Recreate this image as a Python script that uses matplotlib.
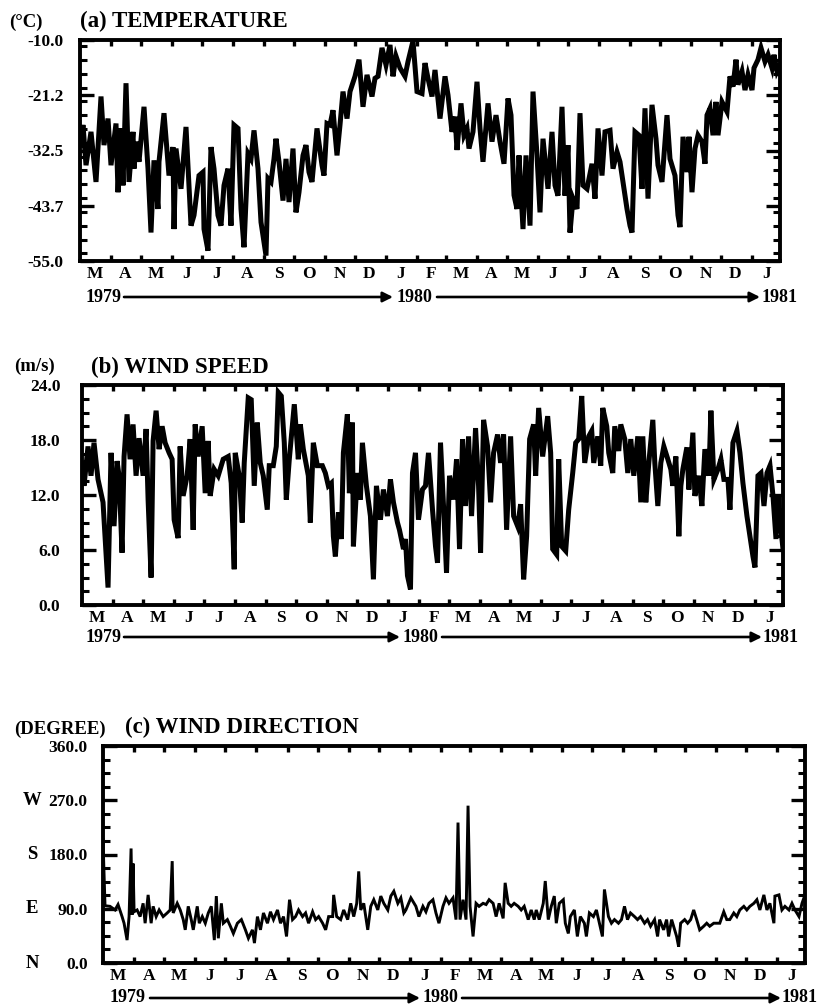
import datetime as dt
import matplotlib
matplotlib.use("Agg")
import matplotlib.pyplot as plt
from matplotlib.ticker import FixedLocator, FixedFormatter, MultipleLocator
from matplotlib.transforms import blended_transform_factory

# ---------------- data (day offset from 1979-03-01, value) ----------------
temp_day = [0, 3, 6, 11, 16, 21, 24, 28, 31, 36, 38, 41, 43, 46, 49, 53, 54, 56, 59, 64,
            68, 71, 74, 78, 79, 84, 89, 93, 94, 96, 101, 106, 111, 114, 119, 123, 124, 128, 131, 134,
            138, 141, 144, 148, 151, 154, 158, 161, 164, 168, 171, 174, 178, 181, 184, 186, 188, 191, 194, 196,
            199, 203, 206, 209, 213, 216, 219, 223, 226, 229,
            232, 237, 242, 244, 247, 250, 253, 257, 260, 263, 267, 270, 275, 279, 283, 287, 292, 295, 298, 302,
            306, 310, 313, 316, 320, 325, 328, 333, 337, 342, 345, 348, 352, 355, 360, 365, 368, 372, 375, 377,
            381, 384, 387, 389, 393, 397, 400, 403, 408, 412, 416, 420, 424, 428, 431, 434, 437, 439, 443, 446,
            450, 453, 457, 460, 463,
            468, 472, 475, 478, 482, 485, 488, 490, 493, 497, 500, 503, 507, 512, 515, 518, 522, 525, 530, 533,
            537, 540, 543, 547, 550, 552, 555, 559, 562, 565, 568, 572, 576, 578, 582, 587, 590, 595, 598, 600,
            603, 607, 609, 612, 615, 618, 622, 625, 627, 630, 633, 636, 638, 642, 647, 650, 653, 656, 658, 662,
            665, 668, 672, 674, 678, 681, 685, 688, 692, 694, 697, 700]
temp_val = [-31.4, -27.3, -35.5, -28.7, -38.9, -21.5, -31.4, -26.0, -35.5, -27.0,
            -41.0, -28.0, -39.6, -18.8, -38.9, -28.7, -36.2, -30.7, -34.8, -23.6,
            -36.2, -49.2, -34.5, -44.4, -34.8, -24.9, -37.6, -31.8, -48.5, -32.1,
            -40.3, -27.7, -47.8, -45.7, -37.6, -36.9, -48.5, -52.9, -31.8, -36.2,
            -45.7, -47.8, -39.6, -36.2, -47.8, -27.3, -28.0, -44.4, -52.2, -33.1,
            -34.2, -28.4, -36.2, -47.1, -51.2, -53.9, -38.2, -38.9, -34.2, -30.1,
            -34.8, -42.7, -34.2, -43.0, -32.1, -45.1, -41.0, -33.5, -31.4, -36.9,
            -38.9, -28.0, -35.5, -37.6, -27.0, -27.3, -24.3, -33.5, -27.3, -20.5,
            -26.0, -20.5, -17.4, -14.0, -23.6, -17.1, -21.5, -17.8, -17.4, -11.6,
            -15.1, -11.0, -17.4, -13.3, -15.7, -17.4, -14.4, -10.2, -20.5, -20.9,
            -14.7, -17.8, -21.5, -16.1, -26.0, -17.4, -21.2, -28.7, -25.6, -32.4,
            -22.9, -29.4, -28.0, -32.1, -28.7, -18.5, -28.0, -34.8, -22.9, -30.7,
            -25.3, -30.7, -35.2, -21.9, -25.3, -41.6, -44.4, -33.5, -48.5, -33.5,
            -47.8, -20.5, -33.5, -45.1, -30.1,
            -40.3, -28.7, -39.6, -41.7, -23.6, -41.7, -31.4, -49.2, -42.3, -44.4,
            -24.9, -39.6, -40.3, -35.2, -42.3, -28.0, -37.6, -28.7, -28.4, -36.2,
            -32.8, -34.8, -38.9, -44.4, -47.8, -49.2, -28.7, -29.4, -40.3, -23.9,
            -42.3, -23.2, -30.1, -35.5, -38.9, -25.3, -34.2, -37.6, -45.7, -48.1,
            -29.7, -36.9, -29.7, -41.0, -32.1, -29.4, -30.7, -35.2, -25.3, -23.9,
            -29.4, -22.6, -29.4, -22.6, -24.6, -17.4, -19.5, -14.0, -19.1, -16.4,
            -20.2, -17.1, -20.2, -15.7, -14.0, -11.6, -14.4, -13.0, -15.7, -13.0,
            -16.4, -15.1]

speed_day = [0, 2, 6, 9, 12, 16, 21, 26, 29, 32, 35, 37, 40, 42, 45, 48, 51, 54, 57, 61,
             64, 66, 69, 71, 74, 77, 80, 83, 87, 90, 92, 96, 98, 101, 105, 108, 111, 113, 116, 120,
             123, 126, 128, 132, 136, 141, 146, 149, 152, 153, 157, 160, 162, 166, 169, 172, 175, 178, 181, 185,
             187, 191, 194, 196, 199, 202, 204, 207, 212, 216, 218, 221, 226,
             228, 231, 235, 240, 243, 246, 249, 251, 253, 256, 259, 261, 265, 267, 270, 271, 275, 278, 280, 284,
             288, 291, 294, 298, 301, 305, 308, 311, 315, 317, 321, 323, 325, 328, 330, 333, 336, 340, 343, 346,
             350, 353, 355, 358, 361, 364, 367, 371, 374, 377, 380, 383, 386, 389, 393, 396, 398, 401, 405, 408,
             411, 415, 418, 421, 424, 428, 431, 435, 438, 441, 444, 447, 451, 453, 456, 460,
             465, 468, 470, 474, 476, 479, 483, 486, 490, 493, 496, 499, 502, 506, 509, 511, 515, 518, 520, 524,
             526, 530, 532, 536, 538, 542, 545, 548, 551, 555, 558, 560, 563, 566, 570, 572, 575, 578, 581, 585,
             588, 590, 593, 596, 598, 600, 604, 606, 610, 612, 616, 619, 622, 626, 628, 631, 635, 638, 641, 645,
             647, 650, 654, 657, 660, 664, 667, 670, 672, 675, 678, 681, 684, 687, 690, 693, 695, 698, 700]
speed_val = [15.5, 13.0, 17.3, 14.1, 17.7, 13.7, 11.2, 1.9, 16.6, 8.6,
             15.7, 14.1, 5.7, 16.2, 20.8, 15.9, 19.7, 14.1, 18.2, 14.1,
             19.2, 11.5, 3.0, 17.9, 21.2, 17.0, 19.5, 17.7, 16.6, 15.9,
             9.3, 7.3, 17.3, 11.9, 14.1, 18.1, 8.2, 19.7, 16.2, 19.5,
             12.2, 17.9, 11.9, 14.8, 14.1, 15.9, 16.2, 13.3, 3.9, 16.6,
             14.1, 9.0, 15.5, 22.6, 22.4, 13.0, 19.9, 15.5, 14.1, 10.4,
             15.2, 15.2, 17.3, 23.2, 22.8, 17.7, 11.5, 15.9, 21.9, 15.9,
             19.7, 17.0, 14.1,
             9.0, 17.7, 15.2, 15.2, 14.4, 13.0, 13.3, 7.5, 5.3, 10.1,
             7.2, 16.6, 20.8, 12.2, 19.9, 6.4, 14.4, 11.5, 17.7, 13.0,
             9.7, 2.8, 13.0, 9.3, 12.6, 9.7, 13.7, 11.2, 9.0, 8.2,
             6.1, 7.2, 3.2, 1.7, 14.4, 16.6, 9.3, 12.6, 13.0, 16.6,
             10.4, 6.4, 4.6, 17.7, 10.8, 3.5, 14.1, 11.5, 15.9, 6.1,
             18.1, 10.8, 18.4, 9.7, 19.3, 13.0, 5.7, 20.2, 17.3, 11.2,
             16.6, 18.6, 15.5, 18.6, 8.2, 18.4, 9.7, 8.6, 11.0, 2.8,
             7.5, 18.1, 19.7, 14.1, 21.5, 16.2,
             20.6, 16.6, 6.1, 5.5, 15.9, 6.4, 5.9, 10.4, 14.4, 17.7,
             18.1, 22.8, 15.5, 18.4, 19.0, 15.5, 18.4, 15.2, 21.5, 19.5,
             16.6, 14.4, 19.5, 16.8, 19.7, 18.1, 14.4, 18.1, 14.1, 18.4,
             11.2, 18.4, 11.2, 15.5, 20.2, 15.5, 10.8, 15.5, 17.3, 15.9,
             14.8, 13.0, 16.2, 7.5, 13.0, 14.8, 17.2, 12.6, 18.8, 11.9,
             14.1, 10.8, 17.0, 14.1, 21.2, 13.7, 14.8, 15.9, 13.7, 13.7,
             10.4, 17.7, 19.0, 16.6, 13.3, 9.7, 7.5, 5.3, 4.1, 14.1,
             14.4, 10.8, 14.4, 15.2, 11.9, 7.2, 11.9, 8.2, 6.1]

dir_day = [0, 2, 7, 12, 15, 19, 21, 24, 26, 28, 29, 30, 31, 34, 37, 40, 42, 45, 48, 50,
           53, 56, 60, 64, 67, 69, 70, 74, 77, 80, 82, 85, 88, 90, 94, 96, 99, 102, 105, 108,
           111, 113, 115, 118, 120, 124, 127, 130, 134, 138, 142, 145, 149, 151, 154, 157, 160, 164, 167, 170,
           174, 177, 180, 183, 186, 189, 192, 195, 199, 202, 205, 209, 212, 215, 219, 222, 225, 229, 230, 233,
           237, 240, 244, 247, 250, 253, 255, 257, 260, 264, 267, 270, 274, 277, 280, 284, 287, 290, 294, 297,
           300, 302, 307, 312, 315, 319, 322, 325, 329, 332, 335, 339, 342, 345, 349, 352, 354, 356, 359, 362,
           364, 366, 369, 372, 375, 379, 382, 385, 389, 392, 395, 399, 401, 404, 407, 410, 414, 417, 420, 424,
           427, 430, 432, 435, 439, 441, 444, 447, 450, 452, 455, 459, 461, 464, 466, 470, 473, 476, 480, 482,
           485, 489, 492, 495, 498, 500, 504, 507, 510, 514, 517, 520, 523, 526, 530, 533, 536, 540, 543, 546,
           550, 553, 555, 559, 562, 564, 567, 570, 572, 574, 576, 580, 583, 586, 589, 592, 595, 599, 602, 605,
           609, 612, 615, 619, 622, 625, 629, 632, 635, 639, 642, 645, 649, 652, 655, 659, 662, 665, 669, 670,
           674, 677, 680, 684, 687, 690, 694, 697, 700]
dir_val = [205, 95, 94, 88, 97, 77, 66, 38, 77, 190, 80, 165, 85, 88, 77, 99, 66, 113, 66, 94,
           77, 88, 77, 83, 88, 169, 83, 99, 88, 72, 55, 94, 72, 55, 94, 66, 77, 66, 83, 94,
           38, 111, 41, 99, 66, 72, 61, 49, 66, 72, 55, 41, 55, 33, 77, 55, 83, 66, 85, 72,
           88, 66, 77, 44, 105, 72, 77, 88, 77, 83, 66, 85, 72, 77, 66, 55, 77, 77, 113, 77,
           72, 88, 72, 99, 77, 99, 152, 88, 99, 55, 94, 105, 88, 111, 99, 88, 111, 119, 99, 108,
           83, 88, 108, 94, 77, 94, 85, 99, 105, 83, 66, 94, 108, 99, 108, 72, 233, 72, 105, 72,
           261, 94, 44, 99, 94, 99, 97, 105, 99, 77, 99, 74, 133, 99, 94, 99, 94, 88, 94, 72,
           88, 72, 88, 72, 99, 136, 72, 94, 111, 66, 99, 105, 66, 49, 77, 88, 44, 77, 66, 44,
           83, 77, 88, 66, 44, 122, 77, 66, 72, 66, 72, 94, 72, 83, 77, 72, 77, 66, 72, 61,
           72, 44, 72, 55, 72, 44, 72, 55, 44, 27, 66, 72, 66, 72, 88, 72, 55, 61, 66, 61,
           66, 66, 66, 85, 72, 72, 83, 77, 88, 94, 88, 94, 99, 105, 88, 113, 88, 99, 66, 111,
           113, 88, 94, 88, 99, 88, 77, 99, 113]

temp_ticks = [-55.0, -43.75, -32.5, -21.25, -10.0]
temp_labels = ["-55.0", "-43.7", "-32.5", "-21.2", "-10.0"]
speed_ticks = [0, 6, 12, 18, 24]
speed_labels = ["0.0", "6.0", "12.0", "18.0", "24.0"]
dir_ticks = [0, 90, 180, 270, 360]
dir_labels = ["0.0", "90.0", "180.0", "270.0", "360.0"]
dir_letters = ["N", "E", "S", "W", ""]
month_letters = list("MAMJJASONDJFMAMJJASONDJ")
years = ["1979", "1980", "1981"]

# ---------------- figure ----------------
W, H = 820, 1008
plt.rcParams["font.family"] = ["Liberation Serif", "DejaVu Serif"]
plt.rcParams["font.weight"] = "bold"
fig = plt.figure(figsize=(W / 100, H / 100), dpi=100)

start = dt.date(1979, 3, 1)
month_starts, month_mids = [], []
y, m = 1979, 3
for i in range(len(month_letters)):
    first = dt.date(y, m, 1)
    month_starts.append((first - start).days)
    month_mids.append((first - start).days + 14.5)
    m += 1
    if m > 12:
        m, y = 1, y + 1


def rect(l, t, r, b):
    return [l / W, 1 - b / H, (r - l) / W, (b - t) / H]


def fx(px):
    return px / W


def fy(py):
    return 1 - py / H


def panel(r, days, vals, ylim, ticks, labels, lw, ypad):
    ax = fig.add_axes(rect(*r))
    ax.plot(days, vals, color="black", lw=lw, solid_joinstyle="miter")
    ax.set_xlim(0, 700)
    ax.set_ylim(*ylim)
    for s in ax.spines.values():
        s.set_linewidth(2.8)
    ax.xaxis.set_major_locator(FixedLocator(month_starts[1:]))
    ax.xaxis.set_minor_locator(FixedLocator(month_mids))
    ax.xaxis.set_minor_formatter(FixedFormatter(month_letters))
    ax.tick_params(axis="x", which="major", direction="in", length=4, width=2.4,
                   top=True, bottom=True, labelbottom=False)
    ax.tick_params(axis="x", which="minor", length=0, pad=3.5, labelsize=12.5)
    ax.yaxis.set_major_locator(FixedLocator(ticks))
    ax.yaxis.set_major_formatter(FixedFormatter(labels))
    ax.yaxis.set_minor_locator(MultipleLocator((ylim[1] - ylim[0]) / 16))
    ax.tick_params(axis="y", which="major", direction="in", length=10, width=2.4,
                   left=True, right=True, pad=ypad, labelsize=12.5)
    ax.tick_params(axis="y", which="minor", direction="in", length=5, width=2.2,
                   left=True, right=True)
    for lab in ax.get_xticklabels(minor=True) + ax.get_yticklabels():
        lab.set_fontweight("bold")
    return ax


def year_row(yc, x1979, a1, x1980, a2, x1981):
    kw = dict(fontsize=13, fontweight="bold", va="center", ha="center")
    fig.text(fx(x1979), fy(yc), years[0], **kw)
    fig.text(fx(x1980), fy(yc), years[1], **kw)
    fig.text(fx(x1981), fy(yc), years[2], **kw)
    for (s, e) in (a1, a2):
        fig.add_artist(matplotlib.patches.FancyArrowPatch(
            (fx(s), fy(yc)), (fx(e), fy(yc)), transform=fig.transFigure,
            arrowstyle="-|>", mutation_scale=15, lw=1.9, color="black",
            shrinkA=0, shrinkB=0))


# (a) temperature
axa = panel((80, 40, 780, 261), temp_day, temp_val, (-55, -10), temp_ticks, temp_labels, 3.6, 12)
fig.text(fx(80), fy(27), "(a) TEMPERATURE", fontsize=16.5, fontweight="bold", ha="left", va="baseline")
fig.text(fx(9), fy(27), "(°C)", fontsize=13.5, fontweight="bold", ha="left", va="baseline")
year_row(297, 104, (124, 393), 414, (437, 760), 780)

# (b) wind speed
axb = panel((82, 385, 783, 605), speed_day, speed_val, (0, 24), speed_ticks, speed_labels, 3.6, 15.5)
fig.text(fx(91), fy(373), "(b) WIND SPEED", fontsize=16.5, fontweight="bold", ha="left", va="baseline")
fig.text(fx(14), fy(371), "(m/s)", fontsize=13.5, fontweight="bold", ha="left", va="baseline")
year_row(637, 104, (124, 400), 420, (442, 762), 781)

# (c) wind direction
axc = panel((103, 746, 805, 963), dir_day, dir_val, (0, 360), dir_ticks, dir_labels, 2.1, 11)
fig.text(fx(125), fy(733), "(c) WIND DIRECTION", fontsize=16.5, fontweight="bold", ha="left", va="baseline")
fig.text(fx(14), fy(734), "(DEGREE)", fontsize=13.5, fontweight="bold", ha="left", va="baseline")
tr = blended_transform_factory(fig.transFigure, axc.transData)
for v, letter in zip(dir_ticks, dir_letters):
    if letter:
        axc.text(fx(32), v, letter, transform=tr, fontsize=13.5, fontweight="bold",
                 ha="center", va="center")
year_row(998, 128, (150, 420), 440, (462, 781), 800)

fig.savefig("out.png", dpi=100)
